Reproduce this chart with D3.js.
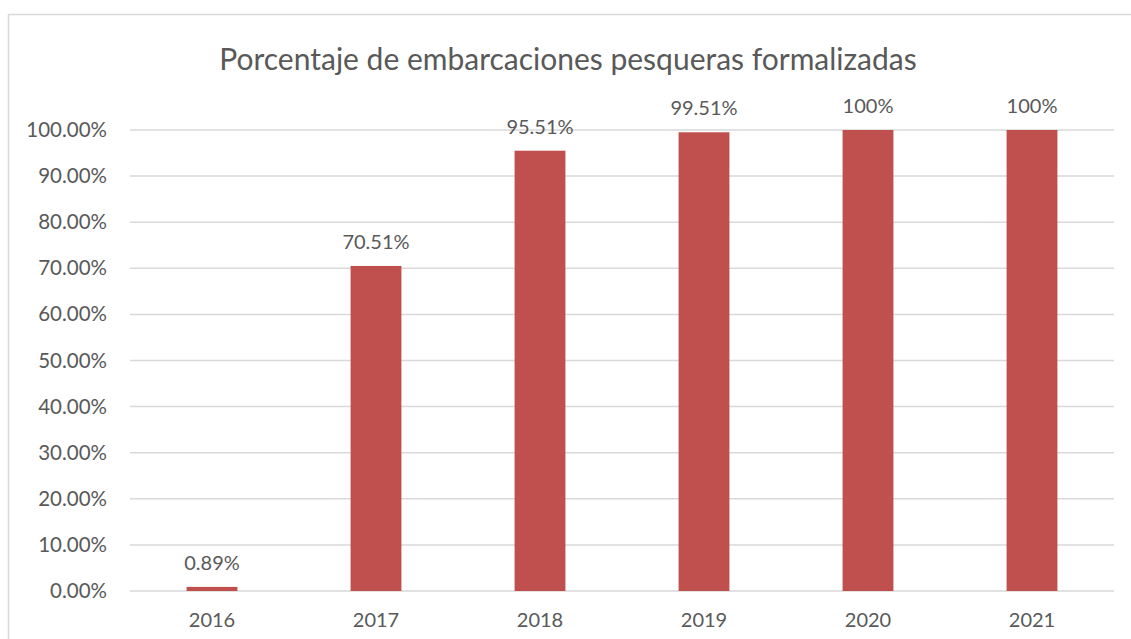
<!DOCTYPE html>
<html>
<head>
<meta charset="utf-8">
<script src="https://cdn.jsdelivr.net/npm/d3@7"></script>
<style>
  body { margin: 0; background: #fff; }
  text { font-family: Lato, "Open Sans", sans-serif; fill: #595959; }
</style>
</head>
<body>
<div id="chart"></div>
<script>
var years = ["2016", "2017", "2018", "2019", "2020", "2021"];
var values = [0.0089, 0.7051, 0.9551, 0.9951, 1.0, 1.0];
var valueLabels = ["0.89%", "70.51%", "95.51%", "99.51%", "100%", "100%"];
var yTicks = [0, 0.1, 0.2, 0.3, 0.4, 0.5, 0.6, 0.7, 0.8, 0.9, 1.0];

var width = 1131, height = 639;
var margin = {left: 130, right: 17, top: 130, bottom: 48};

var svg = d3.select("#chart").append("svg")
    .attr("width", width)
    .attr("height", height);

// chart area border (right/bottom run off the picture)
svg.append("rect")
    .attr("x", 8.5).attr("y", 14.5)
    .attr("width", width + 20).attr("height", height + 20)
    .attr("fill", "none")
    .attr("stroke", "#d9d9d9")
    .attr("stroke-width", 1.5);

var x = d3.scaleBand()
    .domain(years)
    .range([margin.left, width - margin.right])
    .paddingInner(0.69)
    .paddingOuter(0.345);

var y = d3.scaleLinear()
    .domain([0, 1])
    .range([height - margin.bottom, margin.top]);

// title
svg.append("text")
    .attr("x", 568).attr("y", 70)
    .attr("text-anchor", "middle")
    .style("font-size", "30px")
    .text("Porcentaje de embarcaciones pesqueras formalizadas");

// gridlines
svg.append("g").selectAll("line")
    .data(yTicks)
    .enter().append("line")
    .attr("x1", margin.left).attr("x2", width - margin.right)
    .attr("y1", function(d) { return y(d); })
    .attr("y2", function(d) { return y(d); })
    .attr("stroke", "#d9d9d9")
    .attr("stroke-width", 1.5);

// y axis labels
var yAxis = d3.axisLeft(y).tickValues(yTicks)
    .tickFormat(function(d) { return (d * 100).toFixed(2) + "%"; })
    .tickSize(0).tickPadding(23);
var gy = svg.append("g")
    .attr("transform", "translate(" + margin.left + ",0)")
    .call(yAxis);
gy.select(".domain").remove();
gy.selectAll("text")
    .style("font-size", "20.5px")
    .style("font-family", "Lato, 'Open Sans', sans-serif")
    .attr("fill", "#595959");

// x axis labels
var xAxis = d3.axisBottom(x).tickSize(0).tickPadding(22);
var gx = svg.append("g")
    .attr("transform", "translate(0," + y(0) + ")")
    .call(xAxis);
gx.select(".domain").remove();
gx.selectAll("text")
    .style("font-size", "20px")
    .style("font-family", "Lato, 'Open Sans', sans-serif")
    .attr("fill", "#595959");

// bars
svg.append("g").selectAll("rect")
    .data(values)
    .enter().append("rect")
    .attr("x", function(d, i) { return x(years[i]); })
    .attr("width", x.bandwidth())
    .attr("y", function(d) { return y(d); })
    .attr("height", function(d) { return y(0) - y(d); })
    .attr("fill", "#c0504d");

// value labels
svg.append("g").selectAll("text")
    .data(values)
    .enter().append("text")
    .attr("x", function(d, i) { return x(years[i]) + x.bandwidth() / 2; })
    .attr("y", function(d) { return y(d) - 17; })
    .attr("text-anchor", "middle")
    .style("font-size", "20px")
    .text(function(d, i) { return valueLabels[i]; });
</script>
</body>
</html>
